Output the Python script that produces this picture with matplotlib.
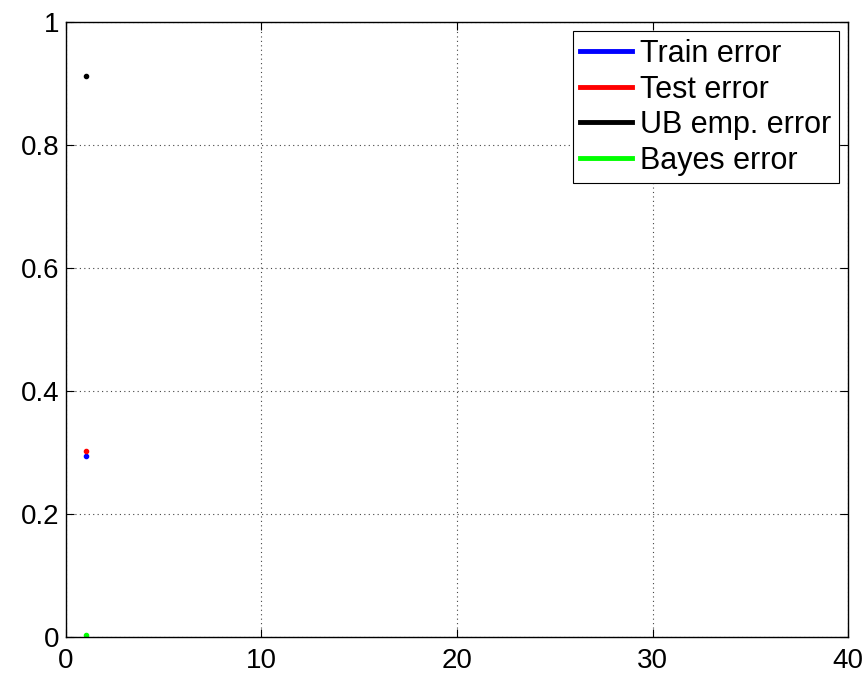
import matplotlib
matplotlib.use("Agg")
import matplotlib.pyplot as plt
from matplotlib.lines import Line2D

plt.rcParams['font.family'] = ['Liberation Sans', 'DejaVu Sans']

iterations = [1]
train_error = [0.294]
test_error = [0.302]
ub_emp_error = [0.913]
bayes_error = [0.003]

series = [
    ("Train error", train_error, "#0000ff"),
    ("Test error", test_error, "#ff0000"),
    ("UB emp. error", ub_emp_error, "#000000"),
    ("Bayes error", bayes_error, "#00ff00"),
]

fig = plt.figure(figsize=(8.68, 6.74), dpi=100)
ax = fig.add_axes([0.076, 0.055, 0.901, 0.912])

for label, vals, color in series:
    ax.plot(iterations, vals, '.', color=color, markersize=6)

ax.set_xlim(0, 40)
ax.set_ylim(0, 1)
ax.set_xticks([0, 10, 20, 30, 40])
ax.set_yticks([0, 0.2, 0.4, 0.6, 0.8, 1])
ax.set_yticklabels(["0", "0.2", "0.4", "0.6", "0.8", "1"])
ax.tick_params(direction='in', labelsize=20, length=6, top=True, right=True)
ax.tick_params(axis='x', pad=8)
ax.tick_params(axis='y', pad=5)
ax.grid(True, linestyle=(0, (1, 3)), color='#444444', linewidth=0.8)
for s in ax.spines.values():
    s.set_linewidth(1.0)

handles = [Line2D([0], [0], color=c, linewidth=3.5) for _, _, c in series]
leg = ax.legend(handles, [s[0] for s in series], loc='upper right', fontsize=22,
                handlelength=1.7, handletextpad=0.25, borderpad=0.25,
                labelspacing=0.18, borderaxespad=0.3, fancybox=False,
                framealpha=1, edgecolor='black')
leg.get_frame().set_linewidth(0.8)

fig.savefig("out.png", dpi=100)
